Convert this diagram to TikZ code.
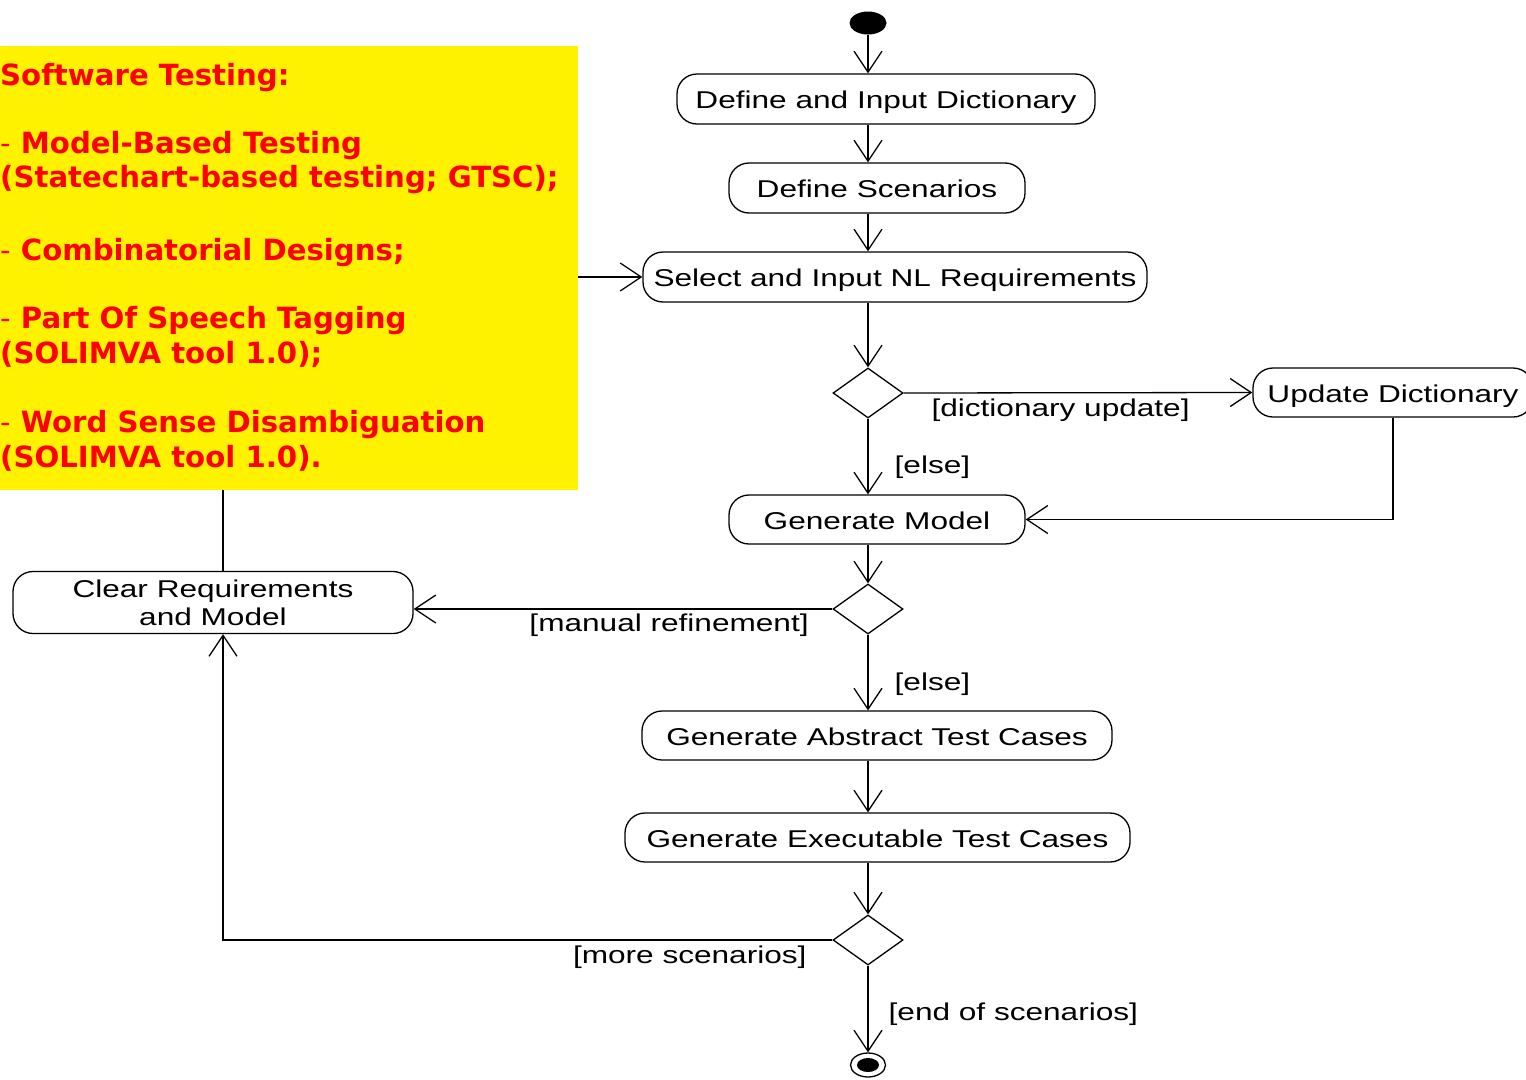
\documentclass[tikz,border=0pt]{standalone}
\usepackage{fontspec}
\setmainfont{Liberation Sans}
\newfontfamily\flowfont[FakeStretch=1.3]{Liberation Sans}
\newfontfamily\notefont{DejaVu Sans}
\usetikzlibrary{arrows.meta,shapes.geometric}

\begin{document}
\begin{tikzpicture}[x=1pt,y=-1pt,
  flow/.style={line width=1.3pt,
    -{Straight Barb[length=21pt,width=28pt,line width=1.3pt]}},
  plain/.style={line width=1.3pt},
  action/.style={draw, line width=1.3pt, rounded corners=20pt, inner sep=0pt,
    align=center, font=\flowfont\fontsize{24.3}{28}\selectfont},
  oneline/.style={text height=19pt, text depth=0pt},
  choice/.style={draw, diamond, line width=1.3pt, minimum width=70pt,
    minimum height=50pt, inner sep=0pt},
  guard/.style={inner sep=0pt, font=\flowfont\fontsize{24.3}{28}\selectfont},
  notetext/.style={anchor=base west, inner sep=0pt, text=red,
    font=\notefont\bfseries\fontsize{29.2}{34}\selectfont}
]
\useasboundingbox (0,0) rectangle (1526,1079);

% yellow annotation panel
\node[fill=yellow, anchor=north west, inner sep=0pt,
      minimum width=578pt, minimum height=444pt] (note) at (0,46) {};
\node[notetext] (n1) at (0,85)  {Software Testing:};
\node[notetext] (n2) at (0,153) {{\mdseries -} Model-Based Testing};
\node[notetext] (n3) at (0,187) {(Statechart-based testing; GTSC);};
\node[notetext] (n4) at (0,260) {{\mdseries -} Combinatorial Designs;};
\node[notetext] (n5) at (0,328) {{\mdseries -} Part Of Speech Tagging};
\node[notetext] (n6) at (0,363) {(SOLIMVA tool 1.0);};
\node[notetext] (n7) at (0,432) {{\mdseries -} Word Sense Disambiguation};
\node[notetext] (n8) at (0,467) {(SOLIMVA tool 1.0).};

% initial and final nodes
\node[ellipse, fill, inner sep=0pt, minimum width=37pt, minimum height=23pt] (start) at (868,23) {};
\node[ellipse, draw, line width=1.3pt, inner sep=0pt, minimum width=35pt, minimum height=24pt] (stop) at (868,1065) {};
\node[ellipse, fill, inner sep=0pt, minimum width=22pt, minimum height=14pt] (stopdot) at (stop.center) {};

% actions
\node[action, oneline, minimum width=418pt, minimum height=50pt] (dict) at (886,99)    {Define and Input Dictionary};
\node[action, oneline, minimum width=296pt, minimum height=50pt] (scen) at (877,188)   {Define Scenarios};
\node[action, oneline, minimum width=504pt, minimum height=50pt] (sel)  at (895,277)   {Select and Input NL Requirements};
\node[action, oneline, minimum width=280pt, minimum height=49pt] (upd)  at (1393,392.5) {Update Dictionary};
\node[action, oneline, minimum width=296pt, minimum height=49pt] (genm) at (877,519.5) {Generate Model};
\node[action, minimum width=400pt, minimum height=62pt] (clr)  at (213,602.5) {Clear Requirements\\and Model};
\node[action, oneline, minimum width=470pt, minimum height=49pt] (gat)  at (877,735.5) {Generate Abstract Test Cases};
\node[action, oneline, minimum width=505pt, minimum height=49pt] (get)  at (877.5,837.5) {Generate Executable Test Cases};

% decisions
\node[choice] (dec1) at (868,393) {};
\node[choice] (dec2) at (868,609) {};
\node[choice] (dec3) at (868,940) {};

\coordinate (spine) at (868,0);
\coordinate (loop) at (223,0);

% control flow
\draw[flow] (start) -- (spine |- dict.north);
\draw[flow] (spine |- dict.south) -- (spine |- scen.north);
\draw[flow] (spine |- scen.south) -- (spine |- sel.north);
\draw[flow] (note.east |- sel.west) -- (sel.west);
\draw[flow] (spine |- sel.south) -- (dec1.north);
\draw[flow] (dec1.east) -- node[guard, pos=0.45, yshift=-17pt] {[dictionary update]} (upd.west);
\draw[flow] (dec1.south) -- node[guard, pos=0.64, anchor=west, xshift=26pt] {[else]} (spine |- genm.north);
\draw[flow] (upd.south) |- (genm.east);
\draw[flow] (spine |- genm.south) -- (dec2.north);
\draw[flow] (dec2.west) -- node[guard, pos=0.39, yshift=-16pt] {[manual refinement]} (clr.east |- dec2.west);
\draw[flow] (dec2.south) -- node[guard, pos=0.65, anchor=west, xshift=26pt] {[else]} (spine |- gat.north);
\draw[flow] (spine |- gat.south) -- (spine |- get.north);
\draw[flow] (spine |- get.south) -- (dec3.north);
\draw[flow] (dec3.west) -| node[guard, pos=0.117, yshift=-17pt] {[more scenarios]} (loop |- clr.south);
\draw[flow] (dec3.south) -- node[guard, pos=0.56, anchor=west, xshift=20pt] {[end of scenarios]} (spine |- stop.north);
\draw[plain] (loop |- note.south) -- (loop |- clr.north);
\end{tikzpicture}
\end{document}
